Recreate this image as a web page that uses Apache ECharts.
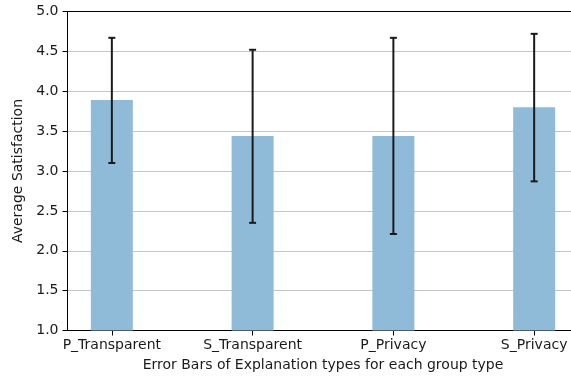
<!DOCTYPE html>
<html>
<head>
<meta charset="utf-8">
<script src="https://cdn.jsdelivr.net/npm/echarts@6/dist/echarts.min.js"></script>
<style>
html,body{margin:0;padding:0;background:#fff;overflow:hidden;}
#chart{width:571px;height:379px;}
</style>
</head>
<body>
<div id="chart"></div>
<script>
var categories = ['P_Transparent', 'S_Transparent', 'P_Privacy', 'S_Privacy'];
var means = [3.89, 3.44, 3.44, 3.80];
var errLow = [3.10, 2.35, 2.21, 2.87];
var errHigh = [4.67, 4.52, 4.67, 4.72];
var yTicks = [1.0, 1.5, 2.0, 2.5, 3.0, 3.5, 4.0, 4.5, 5.0];

var FONT = 'DejaVu Sans';
var TXT = '#1a1a1a';
var FS = 14;

var barData = means.map(function (v, i) { return [i, v]; });
var errData = means.map(function (v, i) { return [i, errLow[i], errHigh[i]]; });
var idx = categories.map(function (c, i) { return i; });

var chart = echarts.init(document.getElementById('chart'), null, {renderer: 'canvas'});
chart.setOption({
  animation: false,
  backgroundColor: '#fff',
  grid: {left: 67.5, top: 11.5, width: 511, height: 319, outerBoundsMode: 'none', containLabel: false,
    show: true, borderColor: '#000', borderWidth: 1, backgroundColor: 'transparent'},
  xAxis: {
    type: 'value',
    min: -0.315, max: 3.315,
    name: 'Error Bars of Explanation types for each group type',
    nameLocation: 'middle', nameGap: 28,
    nameTextStyle: {fontFamily: FONT, fontSize: FS, color: TXT},
    axisLine: {show: true, onZero: false, lineStyle: {color: '#000', width: 1}},
    axisTick: {show: true, customValues: idx, length: 5, lineStyle: {color: '#000', width: 1}},
    axisLabel: {
      customValues: idx, margin: 8,
      fontFamily: FONT, fontSize: FS, color: TXT,
      formatter: function (v) { return categories[Math.round(v)]; }
    },
    splitLine: {show: false}
  },
  yAxis: {
    type: 'value',
    min: yTicks[0], max: yTicks[yTicks.length - 1], interval: 0.5,
    name: 'Average Satisfaction',
    nameLocation: 'middle', nameGap: 36,
    nameTextStyle: {fontFamily: FONT, fontSize: FS, color: TXT},
    axisLine: {show: true, onZero: false, lineStyle: {color: '#000', width: 1}},
    axisTick: {show: true, length: 5, lineStyle: {color: '#000', width: 1}},
    axisLabel: {margin: 9, fontFamily: FONT, fontSize: FS, color: TXT,
      formatter: function (v) { return v.toFixed(1); }},
    splitLine: {show: true, showMinLine: false, showMaxLine: false, lineStyle: {color: '#c4c4c4', width: 1}}
  },
  series: [
    {
      type: 'bar',
      data: barData,
      barWidth: 42,
      itemStyle: {color: '#8fbbd9'},
      z: 2
    },
    {
      type: 'custom',
      data: errData,
      z: 5,
      renderItem: function (params, api) {
        var x = api.value(0);
        var lo = api.coord([x, api.value(1)]);
        var hi = api.coord([x, api.value(2)]);
        var cw = 3.5;
        var style = {stroke: '#1a1a1a', lineWidth: 2};
        return {
          type: 'group',
          children: [
            {type: 'line', shape: {x1: lo[0], y1: lo[1], x2: hi[0], y2: hi[1]}, style: style},
            {type: 'line', shape: {x1: lo[0] - cw, y1: lo[1], x2: lo[0] + cw, y2: lo[1]}, style: style},
            {type: 'line', shape: {x1: hi[0] - cw, y1: hi[1], x2: hi[0] + cw, y2: hi[1]}, style: style}
          ]
        };
      }
    }
  ]
});
</script>
</body>
</html>
